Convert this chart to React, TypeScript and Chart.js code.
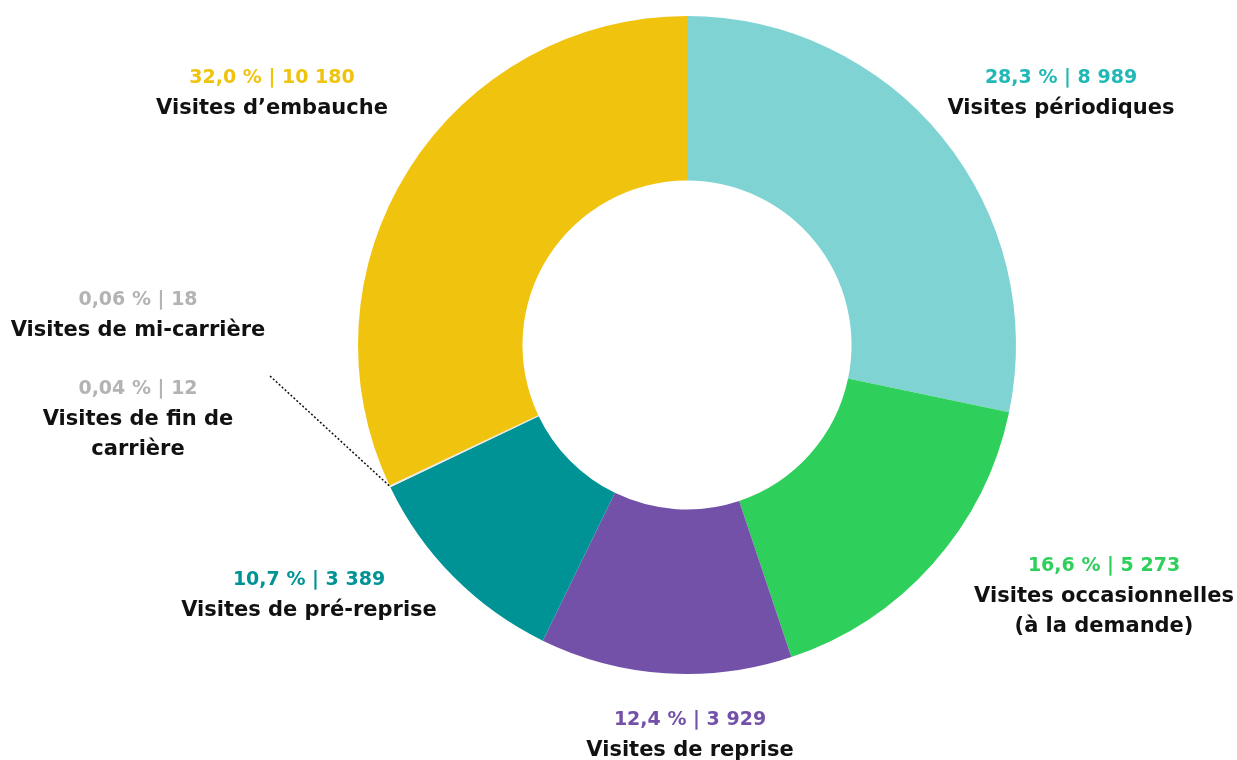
import React, { useEffect, useRef } from "react";
import { Chart, registerables } from "chart.js";

Chart.register(...registerables);

const categories = [
  ["Visites périodiques"],
  ["Visites occasionnelles", "(à la demande)"],
  ["Visites de reprise"],
  ["Visites de pré-reprise"],
  ["Visites de fin de", "carrière"],
  ["Visites de mi-carrière"],
  ["Visites d\u2019embauche"],
];
const values = [8989, 5273, 3929, 3389, 12, 18, 10180];
const percentLabels = ["28,3 %", "16,6 %", "12,4 %", "10,7 %", "0,04 %", "0,06 %", "32,0 %"];
const sliceColors = ["#7fd3d3", "#2ecf5a", "#7451a9", "#009396", "#e6e6e6", "#e6e6e6", "#f0c30f"];
const labelColors = ["#22b8b5", "#2ecf5a", "#7451a9", "#009396", "#b3b3b3", "#b3b3b3", "#f0c30f"];
// label anchor (center x, first line y) per slice
const labelPos = [
  [1061, 78],
  [1104, 566],
  [690, 720],
  [309, 580],
  [138, 389],
  [138, 300],
  [272, 78],
];

const fmt = (n: number) => String(n).replace(/\B(?=(\d{3})+(?!\d))/g, " ");

const FONT = '"DejaVu Sans", sans-serif';

const labelsPlugin = {
  id: "customLabels",
  afterDraw(chart: any) {
    const ctx = chart.ctx;
    ctx.save();
    ctx.textAlign = "center";
    ctx.textBaseline = "middle";
    values.forEach((v, i) => {
      const [x, y] = labelPos[i];
      ctx.font = `bold 19px ${FONT}`;
      ctx.fillStyle = labelColors[i];
      ctx.fillText(`${percentLabels[i]} | ${fmt(v)}`, x, y);
      ctx.font = `bold 21px ${FONT}`;
      ctx.fillStyle = "#111111";
      categories[i].forEach((line, j) => {
        ctx.fillText(line, x, y + 31 + j * 30);
      });
    });
    // leader line to the small slices
    const meta = chart.getDatasetMeta(0);
    const a1: any = meta.data[4];
    const a2: any = meta.data[5];
    const ang = (a1.startAngle + a2.endAngle) / 2;
    const ex = a1.x + Math.cos(ang) * a1.outerRadius;
    const ey = a1.y + Math.sin(ang) * a1.outerRadius;
    ctx.beginPath();
    ctx.setLineDash([2, 2]);
    ctx.lineWidth = 1.5;
    ctx.strokeStyle = "#111111";
    ctx.moveTo(270, 376);
    ctx.lineTo(ex, ey);
    ctx.stroke();
    ctx.restore();
  },
};

export default function App() {
  const ref = useRef<HTMLCanvasElement>(null);
  useEffect(() => {
    const chart = new Chart(ref.current!, {
      type: "doughnut",
      data: {
        labels: categories.map((c) => c.join(" ")),
        datasets: [
          {
            data: values,
            backgroundColor: sliceColors,
            borderWidth: 0,
          },
        ],
      },
      options: {
        animation: false,
        responsive: false,
        maintainAspectRatio: false,
        cutout: "50%",
        layout: { padding: { left: 358, right: 221, top: 16, bottom: 86 } },
        plugins: { legend: { display: false }, tooltip: { enabled: false } },
      },
      plugins: [labelsPlugin],
    });
    return () => chart.destroy();
  }, []);
  return (
    <div style={{ position: "fixed", left: 0, top: 0, width: 1237, height: 760, background: "#fff" }}>
      <canvas ref={ref} width={1237} height={760} style={{ width: 1237, height: 760 }} />
    </div>
  );
}
